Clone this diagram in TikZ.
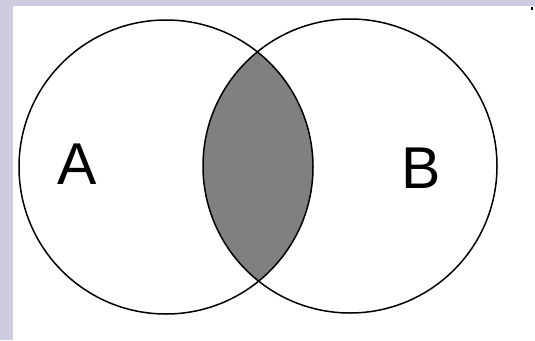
\documentclass[tikz,border=0pt]{standalone}
\usepackage{fontspec}
\setmainfont{Liberation Sans}
\usetikzlibrary{positioning}
\definecolor{slideback}{RGB}{205,204,224}
\definecolor{lensgray}{RGB}{128,128,128}

\begin{document}
\begin{tikzpicture}[x=1pt,y=-1pt]
\tikzset{setlabel/.style={font=\fontsize{59}{59}\selectfont, inner sep=0pt}}

% Background
\fill[slideback] (0,0) rectangle (535,340);
\fill[white] (13,6) rectangle (535,340);
\useasboundingbox (0,0) rectangle (535,340);
\fill[black] (531,7) rectangle (533,10);

% --- Intersection A and B ---
\begin{scope}
\clip (166,167) circle (147pt);
\fill[lensgray] (350,166) circle (147pt);
\end{scope}

% --- Sets ---
\draw[line width=1.5pt] (166,167) circle (147pt);
\draw[line width=1.5pt] (350,166) circle (147pt);

% Labels
\node[setlabel] (labA) at (77,164) {A};
\node[setlabel] (labB) at (421,168) {B};

\end{tikzpicture}
\end{document}
